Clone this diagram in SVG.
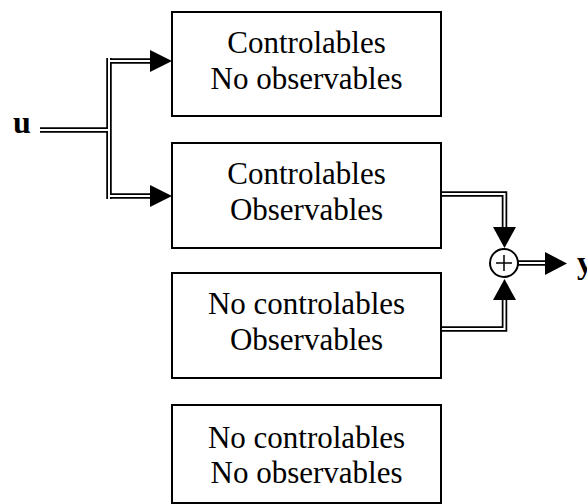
<svg xmlns="http://www.w3.org/2000/svg" width="587" height="504" viewBox="0 0 587 504">
<style>
.box{fill:#fff;stroke:#000;stroke-width:2}
.t{font-family:"Liberation Serif","Times New Roman",serif;font-size:31px;text-anchor:middle;fill:#000}
.lbl{font-family:"Liberation Serif","Times New Roman",serif;font-size:32px;font-weight:bold;fill:#000}
.dbo{fill:none;stroke:#000;stroke-width:5.5;stroke-linejoin:miter;stroke-linecap:butt}
.dbi{fill:none;stroke:#fff;stroke-width:2;stroke-linejoin:miter;stroke-linecap:butt}
.ah{fill:#000}
</style>
<rect width="587" height="504" fill="#fff"/>
<g id="connectors">
  <path class="dbo" d="M40 130 H109 M109 58 V199 M109 61 H151 M109 196 H151"/>
  <path class="dbi" d="M40 130 H109 M109 58 V199 M109 61 H151 M109 196 H151"/>
  <polygon class="ah" points="150,50 172,61 150,72"/>
  <polygon class="ah" points="150,185 172,196 150,207"/>
  <path class="dbo" d="M441 194 H504.5 V228 M441 329 H504.5 V299 M518 263 H546"/>
  <path class="dbi" d="M441 194 H504.5 V228 M441 329 H504.5 V299 M518 263 H546"/>
  <polygon class="ah" points="493,227 516,227 504.5,248"/>
  <polygon class="ah" points="493,300 516,300 504.5,279"/>
  <polygon class="ah" points="545,252 567,263.5 545,275"/>
</g>
<g id="sum">
  <circle cx="504" cy="263" r="14" fill="#fff" stroke="#000" stroke-width="2"/>
  <path d="M496 263 H512 M504 255 V271" stroke="#000" stroke-width="1.5" fill="none"/>
</g>
<g id="input-u"><text class="lbl" x="13" y="133">u</text></g>
<g id="output-y"><text class="lbl" x="577" y="273">y</text></g>
<g id="box1">
  <rect class="box" x="172" y="12" width="269" height="104"/>
  <text class="t" x="306.5" y="53">Controlables</text>
  <text class="t" x="306.5" y="89">No observables</text>
</g>
<g id="box2">
  <rect class="box" x="172" y="143" width="269" height="105"/>
  <text class="t" x="306.5" y="184">Controlables</text>
  <text class="t" x="306.5" y="220">Observables</text>
</g>
<g id="box3">
  <rect class="box" x="172" y="273" width="269" height="105"/>
  <text class="t" x="306.5" y="314">No controlables</text>
  <text class="t" x="306.5" y="350">Observables</text>
</g>
<g id="box4">
  <rect class="box" x="172" y="405" width="269" height="98"/>
  <text class="t" x="306.5" y="448">No controlables</text>
  <text class="t" x="306.5" y="483">No observables</text>
</g>
</svg>
